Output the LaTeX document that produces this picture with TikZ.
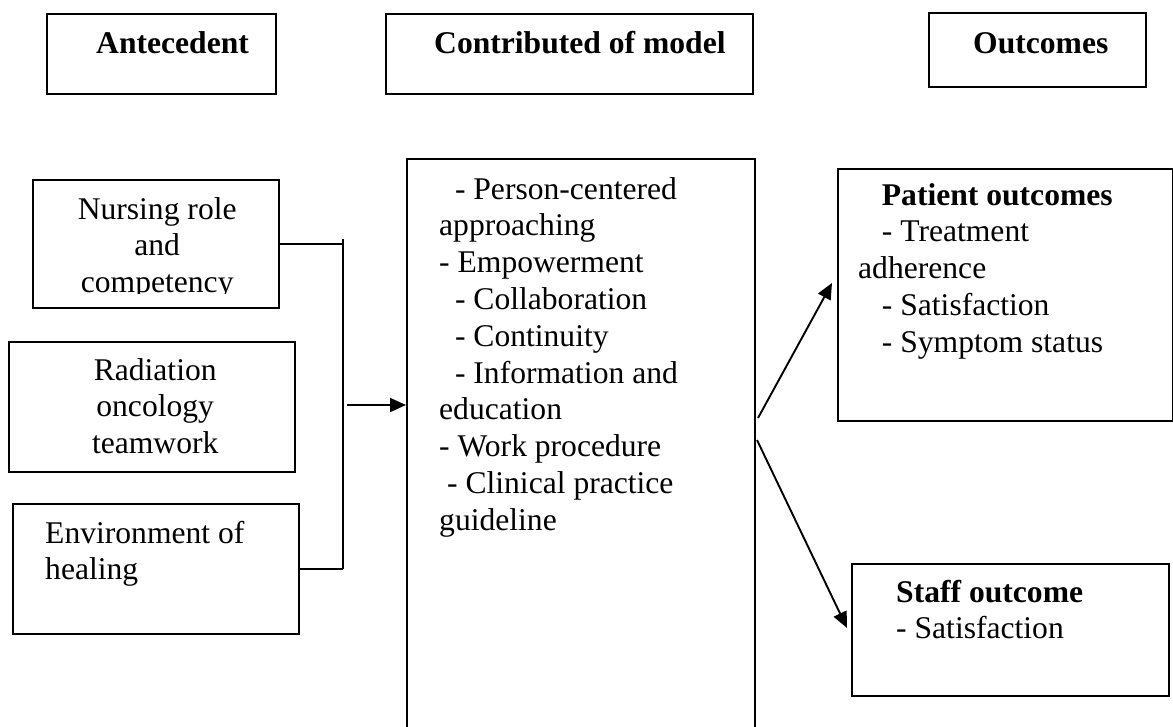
\documentclass[tikz,border=0pt]{standalone}
\usepackage{fontspec}
\setmainfont{Liberation Serif}
\usetikzlibrary{arrows.meta}
\begin{document}
\begin{tikzpicture}[x=1pt,y=-1pt,
  box/.style={draw, line width=1.9pt, inner sep=0pt, anchor=north west},
  txt/.style={inner sep=0pt, anchor=base west, font=\fontsize{31.6}{36.8}\selectfont},
  conn/.style={line width=1.9pt},
  arr/.style={line width=1.9pt, -{Triangle[length=16pt,width=14pt]}}]
\clip (0,0) rectangle (1173,726);
\fill[white] (0,0) rectangle (1173,726);
% header boxes
\node[box, minimum width=229pt, minimum height=80pt] (ante) at (46,13) {};
\node[box, minimum width=367pt, minimum height=80pt] (contrib) at (385,13) {};
\node[box, minimum width=217pt, minimum height=74pt] (outc) at (928,12) {};
\node[txt, font=\fontsize{31.6}{36.8}\selectfont\bfseries] (antet) at (96,53) {Antecedent};
\node[txt, font=\fontsize{31.6}{36.8}\selectfont\bfseries] (contribt) at (434,53) {Contributed of model};
\node[txt, font=\fontsize{31.6}{36.8}\selectfont\bfseries] (outct) at (973,53) {Outcomes};
% antecedent boxes
\node[box, minimum width=246pt, minimum height=128pt] (nurse) at (32,179) {};
\node[box, minimum width=286pt, minimum height=130pt] (radi) at (8,341) {};
\node[box, minimum width=286pt, minimum height=130pt] (env) at (12,503) {};
\begin{scope}
\clip (33,180) rectangle (277,293.5);
\node[txt] (nurset) at (32,219) {\parbox[t]{250pt}{\centering Nursing role\\ and\\ competency}};
\end{scope}
\node[txt] (radit) at (4,380) {\parbox[t]{302pt}{\centering Radiation\\ oncology\\ teamwork}};
\node[txt] (envt) at (45,543) {\parbox[t]{250pt}{\raggedright Environment of\\ healing}};
% center box
\node[box, minimum width=348pt, minimum height=590pt] (center) at (406,158) {};
\node[txt] (centert) at (439,199) {\parbox[t]{320pt}{\raggedright
\hspace*{15.8pt}- Person-centered\\
approaching\\
- Empowerment\\
\hspace*{15.8pt}- Collaboration\\
\hspace*{15.8pt}- Continuity\\
\hspace*{15.8pt}- Information and\\
education\\
- Work procedure\\
\hspace*{7.9pt}- Clinical practice\\
guideline}};
% outcome boxes
\node[box, minimum width=335pt, minimum height=252pt] (patient) at (837,168) {};
\node[box, minimum width=317pt, minimum height=132pt] (staff) at (851,563) {};
\node[txt] (patientt) at (858,205) {\parbox[t]{310pt}{\raggedright
\hspace*{23.7pt}\textbf{Patient outcomes}\\
\hspace*{23.7pt}- Treatment\\
adherence\\
\hspace*{23.7pt}- Satisfaction\\
\hspace*{23.7pt}- Symptom status}};
\node[txt] (stafft) at (896,602) {\parbox[t]{260pt}{\raggedright
\textbf{Staff outcome}\\
- Satisfaction}};
% connectors
\coordinate (bustop) at (343,239);
\coordinate (busbot) at (343,569);
\draw[conn] (bustop) -- (busbot);
\draw[conn] (nurse.east) -- (nurse.east -| bustop);
\draw[conn] (env.east) -- (env.east -| bustop);
\coordinate (arrstart) at (347,405);
\draw[arr] (arrstart) -- (arrstart -| center.west);
\coordinate (up1) at (758,418);
\coordinate (up2) at (832,283);
\draw[arr] (up1) -- (up2);
\coordinate (lo1) at (757,440);
\coordinate (lo2) at (847,628);
\draw[arr] (lo1) -- (lo2);
\end{tikzpicture}
\end{document}
